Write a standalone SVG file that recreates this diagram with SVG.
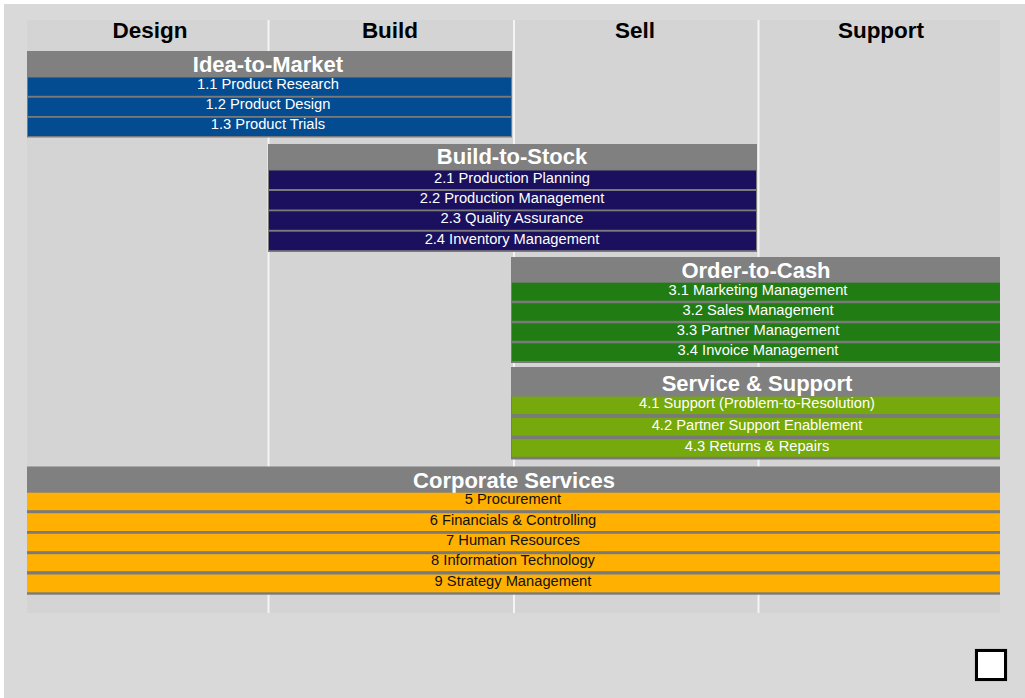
<svg xmlns="http://www.w3.org/2000/svg" width="1025" height="698" viewBox="0 0 1025 698">
<style>
.lane{fill:#d4d4d4}
.sep{stroke:#f4f4f4;stroke-width:2}
.col{font-family:"Liberation Sans",Arial,sans-serif;font-weight:bold;font-size:22.5px;fill:#000;text-anchor:middle}
.gbg{fill:#7a7a7a}
.ghd{fill:#808080}
.gt{font-family:"Liberation Sans",Arial,sans-serif;font-weight:bold;font-size:22px;fill:#fff;text-anchor:middle}
.rt{font-family:"Liberation Sans",Arial,sans-serif;font-size:14.7px;fill:#fff;text-anchor:middle}
.rtk{font-family:"Liberation Sans",Arial,sans-serif;font-size:14.7px;fill:#111;text-anchor:middle}
.c1{fill:#034c92}
.c2{fill:#1a105e}
.c3{fill:#217c14}
.c4{fill:#76a90b}
.c5{fill:#ffb000}
</style>
<rect x="0" y="0" width="1025" height="698" fill="#ffffff"/>
<rect x="4" y="4" width="1021" height="694" fill="#d9d9d9"/>
<g id="lanes">
<rect class="lane" x="27" y="20" width="973" height="593"/>
<line class="sep" x1="268.5" y1="20" x2="268.5" y2="613"/>
<line class="sep" x1="514" y1="20" x2="514" y2="613"/>
<line class="sep" x1="758.5" y1="20" x2="758.5" y2="613"/>
<text class="col" x="150" y="38">Design</text>
<text class="col" x="390" y="38">Build</text>
<text class="col" x="635" y="38">Sell</text>
<text class="col" x="881" y="38">Support</text>
</g>
<g id="idea-to-market">
<rect class="gbg" x="27" y="51" width="485" height="86.5"/>
<rect class="ghd" x="27" y="51" width="485" height="26"/>
<text class="gt" x="268" y="71.5">Idea-to-Market</text>
<rect class="c1" x="28" y="77.5" width="483" height="18.3"/>
<rect class="c1" x="28" y="97.7" width="483" height="18.3"/>
<rect class="c1" x="28" y="117.8" width="483" height="18.2"/>
<text class="rt" x="268" y="89.3">1.1 Product Research</text>
<text class="rt" x="268" y="109.4">1.2 Product Design</text>
<text class="rt" x="268" y="129.4">1.3 Product Trials</text>
</g>
<g id="build-to-stock">
<rect class="gbg" x="268" y="144" width="489" height="108"/>
<rect class="ghd" x="268" y="144" width="489" height="25.5"/>
<text class="gt" x="512" y="164">Build-to-Stock</text>
<rect class="c2" x="269" y="170.5" width="487" height="18.5"/>
<rect class="c2" x="269" y="191" width="487" height="18.5"/>
<rect class="c2" x="269" y="211.3" width="487" height="18.5"/>
<rect class="c2" x="269" y="231.7" width="487" height="18.5"/>
<text class="rt" x="512" y="182.5">2.1 Production Planning</text>
<text class="rt" x="512" y="203">2.2 Production Management</text>
<text class="rt" x="512" y="223.3">2.3 Quality Assurance</text>
<text class="rt" x="512" y="243.7">2.4 Inventory Management</text>
</g>
<g id="order-to-cash">
<rect class="gbg" x="511" y="257" width="489" height="106"/>
<rect class="ghd" x="511" y="257" width="489" height="25.7"/>
<text class="gt" x="756" y="277.5">Order-to-Cash</text>
<rect class="c3" x="512" y="282.7" width="488" height="18"/>
<rect class="c3" x="512" y="303.2" width="488" height="17.6"/>
<rect class="c3" x="512" y="323.3" width="488" height="17.5"/>
<rect class="c3" x="512" y="343.3" width="488" height="17.7"/>
<text class="rt" x="758" y="294.5">3.1 Marketing Management</text>
<text class="rt" x="758" y="314.8">3.2 Sales Management</text>
<text class="rt" x="758" y="335">3.3 Partner Management</text>
<text class="rt" x="758" y="355">3.4 Invoice Management</text>
</g>
<g id="service-support">
<rect class="gbg" x="511" y="367" width="489" height="92.5"/>
<rect class="ghd" x="511" y="367" width="489" height="29.5"/>
<text class="gt" x="757" y="390.5">Service &amp; Support</text>
<rect class="c4" x="512" y="396.6" width="488" height="17.5"/>
<rect class="c4" x="512" y="417.8" width="488" height="17.9"/>
<rect class="c4" x="512" y="439" width="488" height="17.8"/>
<text class="rt" x="757" y="408">4.1 Support (Problem-to-Resolution)</text>
<text class="rt" x="757" y="429.5">4.2 Partner Support Enablement</text>
<text class="rt" x="757" y="450.5">4.3 Returns &amp; Repairs</text>
</g>
<g id="corporate-services">
<rect class="gbg" x="27" y="466.7" width="973" height="128"/>
<rect class="ghd" x="27" y="466.7" width="973" height="26"/>
<text class="gt" x="514" y="487.5">Corporate Services</text>
<rect class="c5" x="27" y="492.7" width="973" height="17.5"/>
<rect class="c5" x="27" y="513.2" width="973" height="17.8"/>
<rect class="c5" x="27" y="533.8" width="973" height="17.4"/>
<rect class="c5" x="27" y="554.2" width="973" height="17"/>
<rect class="c5" x="27" y="574.5" width="973" height="17.8"/>
<text class="rtk" x="513" y="504">5 Procurement</text>
<text class="rtk" x="513" y="525">6 Financials &amp; Controlling</text>
<text class="rtk" x="513" y="545">7 Human Resources</text>
<text class="rtk" x="513" y="565">8 Information Technology</text>
<text class="rtk" x="513" y="586">9 Strategy Management</text>
</g>
<g id="connectors"/>
<g id="box">
<rect x="975" y="649" width="32" height="32" fill="none" stroke="#bdbdbd" stroke-width="1"/>
<rect x="976.5" y="650.5" width="29" height="29" fill="#ffffff" stroke="#000000" stroke-width="3"/>
</g>
</svg>
